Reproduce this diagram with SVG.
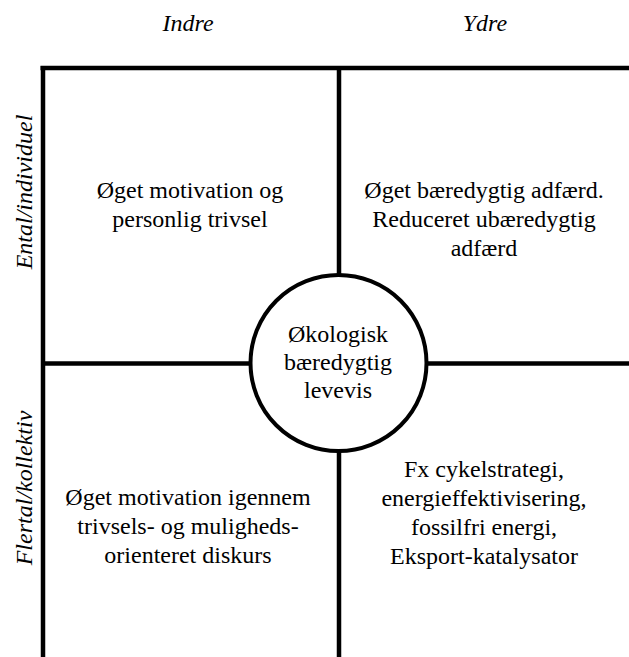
<svg xmlns="http://www.w3.org/2000/svg" width="629" height="657" viewBox="0 0 629 657" font-family="'Liberation Serif', Tinos, 'Times New Roman', 'DejaVu Serif', serif">
  <style>
    .axis { stroke: #000; stroke-width: 4.5; fill: none; }
    .hub { stroke: #000; stroke-width: 4; fill: #fff; }
    text { font-family: 'Liberation Serif', Tinos, 'Times New Roman', 'DejaVu Serif', serif; font-size: 24px; fill: #000; }
    .head { font-style: italic; text-anchor: middle; }
    .body { text-anchor: middle; }
  </style>

  <!-- column headings -->
  <g id="col-indre"><text class="head" x="188" y="31">Indre</text></g>
  <g id="col-ydre"><text class="head" x="485" y="31">Ydre</text></g>

  <!-- row headings, rotated to read bottom-up -->
  <g id="row-ental"><text class="head" transform="translate(32 192) rotate(-90)">Ental/individuel</text></g>
  <g id="row-flertal"><text class="head" transform="translate(32 488) rotate(-90)">Flertal/kollektiv</text></g>

  <!-- quadrant grid -->
  <g id="connectors">
    <line class="axis" x1="40.5" y1="68" x2="629" y2="68"/>
    <line class="axis" x1="43" y1="66" x2="43" y2="657"/>
    <line class="axis" x1="339" y1="68" x2="339" y2="657"/>
    <line class="axis" x1="43" y1="363.5" x2="629" y2="363.5"/>
  </g>

  <!-- central hub -->
  <g id="hub">
    <circle class="hub" cx="338.5" cy="363" r="88"/>
    <text class="body" x="338" y="342">Økologisk</text>
    <text class="body" x="338" y="370">bæredygtig</text>
    <text class="body" x="338" y="398">levevis</text>
  </g>

  <!-- quadrants -->
  <g id="q-indre-ental">
    <text class="body" x="190" y="198">Øget motivation og</text>
    <text class="body" x="190" y="227">personlig trivsel</text>
  </g>
  <g id="q-ydre-ental">
    <text class="body" x="484" y="198">Øget bæredygtig adfærd.</text>
    <text class="body" x="484" y="227">Reduceret ubæredygtig</text>
    <text class="body" x="484" y="256">adfærd</text>
  </g>
  <g id="q-indre-flertal">
    <text class="body" x="188" y="505">Øget motivation igennem</text>
    <text class="body" x="188" y="534">trivsels- og muligheds-</text>
    <text class="body" x="188" y="563">orienteret diskurs</text>
  </g>
  <g id="q-ydre-flertal">
    <text class="body" x="484" y="477">Fx cykelstrategi,</text>
    <text class="body" x="484" y="506">energieffektivisering,</text>
    <text class="body" x="484" y="535">fossilfri energi,</text>
    <text class="body" x="484" y="564">Eksport-katalysator</text>
  </g>
</svg>
